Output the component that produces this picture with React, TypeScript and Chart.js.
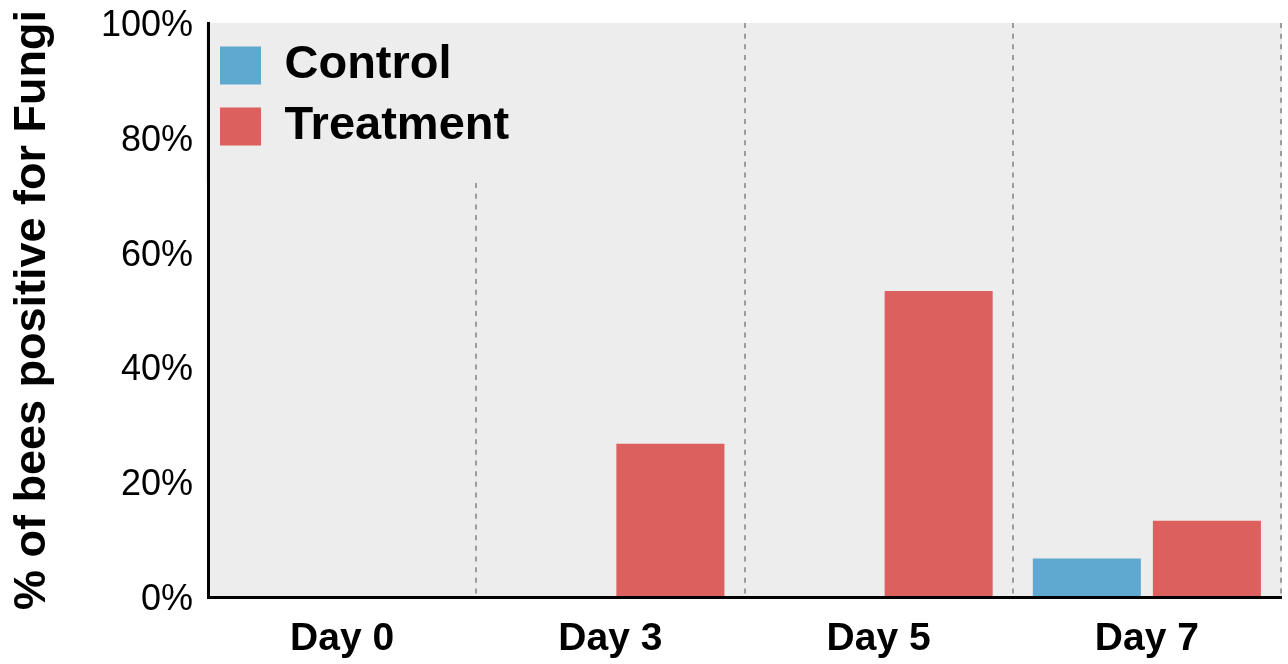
import React, { useEffect, useRef } from 'react';
import { Chart, registerables } from 'chart.js';

Chart.register(...registerables);

const categories = ['Day 0', 'Day 3', 'Day 5', 'Day 7'];
const seriesNames = ['Control', 'Treatment'];
const controlValues = [0, 0, 0, 6.7];
const treatmentValues = [0, 26.7, 53.3, 13.3];
const yTickValues = [0, 20, 40, 60, 80, 100];
const yTitle = '% of bees positive for Fungi';

const FONT = '"Liberation Sans", Arial, Helvetica, sans-serif';
const PLOT_BG = '#ededed';
const BLUE = '#5fa8cf';
const RED = '#db605e';
const LEGEND_BG_HEIGHT = 160;

const plotBackground = {
  id: 'plotBackground',
  beforeDraw(chart: any) {
    const { ctx, chartArea } = chart;
    ctx.save();
    ctx.fillStyle = PLOT_BG;
    ctx.fillRect(chartArea.left, chartArea.top, chartArea.right - chartArea.left + 1, chartArea.bottom - chartArea.top);
    ctx.restore();
  },
};

const legendPlacement = {
  id: 'legendPlacement',
  afterLayout(chart: any) {
    const lg = chart.legend;
    if (!lg) return;
    lg.left = chart.chartArea.left - 2;
    lg.top = chart.chartArea.top + 5;
    if (!lg.__wrapped) {
      const orig = lg.draw;
      lg.draw = function (...args: any[]) {
        const ctx = this.ctx;
        ctx.save();
        ctx.fillStyle = PLOT_BG;
        ctx.fillRect(this.left, this.top - 5, this.width, LEGEND_BG_HEIGHT);
        ctx.restore();
        return orig.apply(this, args);
      };
      lg.__wrapped = true;
    }
  },
};

export default function App() {
  const canvasRef = useRef<HTMLCanvasElement | null>(null);

  useEffect(() => {
    if (!canvasRef.current) return;
    const chart = new Chart(canvasRef.current, {
      type: 'bar',
      data: {
        labels: categories,
        datasets: [
          {
            label: seriesNames[0],
            data: controlValues,
            backgroundColor: BLUE,
            borderWidth: 0,
            categoryPercentage: 0.895,
            barPercentage: 0.9,
          },
          {
            label: seriesNames[1],
            data: treatmentValues,
            backgroundColor: RED,
            borderWidth: 0,
            categoryPercentage: 0.895,
            barPercentage: 0.9,
          },
        ],
      },
      options: {
        responsive: false,
        animation: false,
        layout: { padding: { top: 23, right: 7, left: 0, bottom: 0 } },
        plugins: {
          tooltip: { enabled: false },
          legend: {
            position: 'chartArea' as any,
            align: 'start',
            labels: {
              boxWidth: 41,
              boxHeight: 38,
              padding: 14,
              color: '#000',
              font: { family: FONT, size: 47, weight: 'bold' },
            },
          },
        },
        scales: {
          x: {
            grid: { display: true, offset: true, color: '#9c9c9c', lineWidth: 2, drawTicks: false },
            border: { display: true, color: '#000', width: 3, dash: [5, 5.67], z: 1 },
            ticks: {
              color: '#000',
              padding: 19,
              font: { family: FONT, size: 39, weight: 'bold' },
            },
            afterFit(scale: any) {
              scale.height = 67;
              scale.paddingLeft = 0;
              scale.paddingRight = 0;
            },
          },
          y: {
            min: 0,
            max: 100,
            grid: { display: false, drawTicks: false },
            border: { display: true, color: '#000', width: 3, z: 1 },
            afterBuildTicks(scale: any) {
              scale.ticks = yTickValues.map((v) => ({ value: v }));
            },
            ticks: {
              color: '#000',
              padding: 15,
              labelOffset: 3,
              font: { family: FONT, size: 36 },
              callback: (v: any) => `${v}%`,
            },
            title: {
              display: true,
              text: yTitle,
              color: '#000',
              padding: { top: 6, bottom: 0 },
              font: { family: FONT, size: 45, weight: 'bold' },
            },
            afterFit(scale: any) {
              scale.width = 208;
              scale.paddingTop = 0;
              scale.paddingBottom = 0;
            },
          },
        },
      },
      plugins: [plotBackground, legendPlacement],
    });
    return () => chart.destroy();
  }, []);

  return (
    <div style={{ position: 'fixed', left: 0, top: 0, width: 1288, height: 664, background: '#fff' }}>
      <canvas ref={canvasRef} width={1288} height={664} style={{ display: 'block' }} />
    </div>
  );
}
